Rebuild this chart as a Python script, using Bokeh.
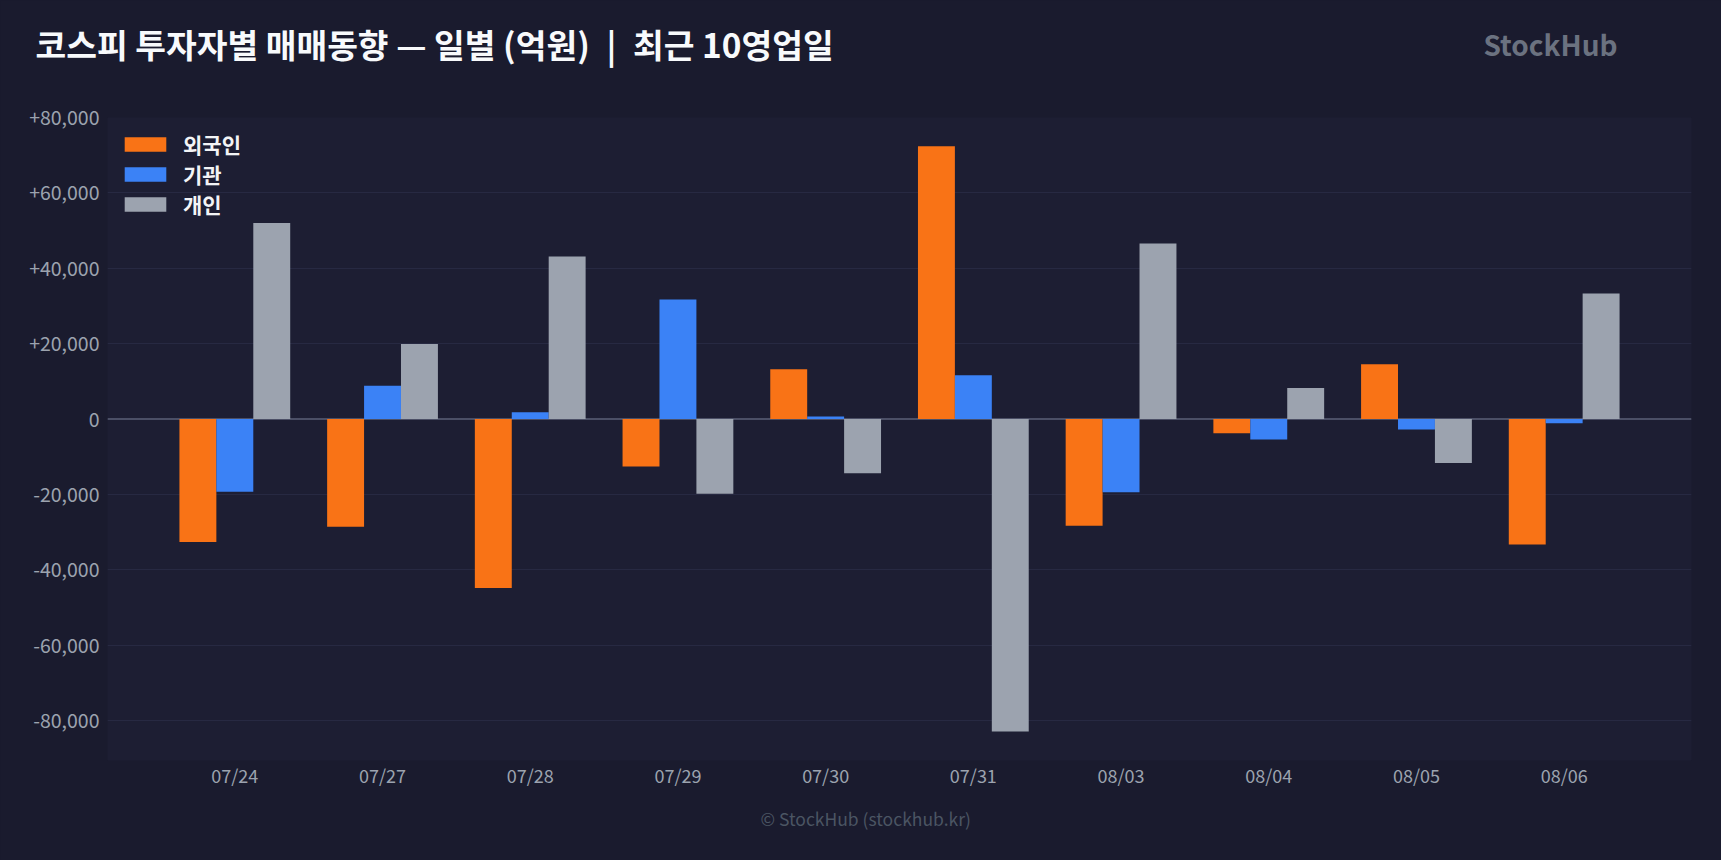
from bokeh.plotting import figure
from bokeh.models import Range1d, FixedTicker, Span, ColumnDataSource, Title, Label
from bokeh.transform import dodge
from bokeh.embed import file_html
from bokeh.resources import INLINE

dates = ["07/24", "07/27", "07/28", "07/29", "07/30", "07/31", "08/03", "08/04", "08/05", "08/06"]
foreign = [-32600, -28600, -44800, -12600, 13200, 72400, -28300, -3800, 14500, -33300]
institution = [-19300, 8800, 1800, 31700, 700, 11600, -19400, -5400, -2800, -1100]
individual = [52000, 19900, 43100, -19800, -14400, -82900, 46600, 8200, -11700, 33300]
series_names = ["외국인", "기관", "개인"]
series_colors = ["#f97316", "#3b82f6", "#9ca3af"]
y_ticks = [-80000, -60000, -40000, -20000, 0, 20000, 40000, 60000, 80000]
title_text = "코스피 투자자별 매매동향 — 일별 (억원)\u2002|\u2002최근 10영업일"
brand_text = "StockHub"
footer_text = "© StockHub (stockhub.kr)"

BG = "#1a1b2e"
PLOT_BG = "#1d1e33"
FONT = "Noto Sans CJK KR"
W, H = 1721, 860
BL, BR, BT, BB = 107, 30, 117, 100

src = ColumnDataSource(dict(x=list(range(len(dates))), foreign=foreign,
                            institution=institution, individual=individual))

p = figure(width=W, height=H, output_backend="svg", toolbar_location=None,
           x_range=Range1d(-0.862, len(dates) - 1 + 0.862),
           y_range=Range1d(-90600, 80000),
           min_border_left=BL, min_border_right=BR, min_border_top=BT, min_border_bottom=BB)
p.border_fill_color = BG
p.background_fill_color = PLOT_BG
p.outline_line_color = None

# title
p.title.text = title_text
p.title.align = "left"
p.title.offset = 35 - BL
p.title.standoff = 20
p.title.text_font = FONT
p.title.text_font_style = "bold"
p.title.text_font_size = "33.4px"
p.title.text_color = "#f8fafc"

# brand, in the top side panel
p.add_layout(Label(x=1617 - BL, y=74, x_units="screen", y_units="screen",
                   text=brand_text, text_font=FONT, text_font_style="bold", text_font_size="28px",
                   text_color="#6b7280", text_align="right", text_baseline="middle"), "above")

# footer
p.add_layout(Title(text=footer_text, align="left", offset=760 - BL, standoff=27,
                   text_font=FONT, text_font_style="normal", text_font_size="17.5px",
                   text_color="#4b5563"), "below")

p.add_layout(Span(location=0, dimension="width", line_color="#4b4f66", line_width=2, level="underlay"))

for col, off, name, color in zip(["foreign", "institution", "individual"], [-0.25, 0.0, 0.25],
                                 series_names, series_colors):
    p.vbar(x=dodge("x", off), top=col, bottom=0, width=0.25, source=src,
           fill_color=color, line_color=None, legend_label=name)

p.xaxis.ticker = FixedTicker(ticks=list(range(len(dates))))
p.xaxis.major_label_overrides = {i: d for i, d in enumerate(dates)}
p.yaxis.ticker = FixedTicker(ticks=y_ticks)
p.yaxis.major_label_overrides = {t: ("+{:,}".format(t) if t > 0 else "{:,}".format(t)) for t in y_ticks}
for ax in (p.xaxis, p.yaxis):
    ax.axis_line_color = None
    ax.major_tick_line_color = None
    ax.minor_tick_line_color = None
    ax.major_tick_out = 0
    ax.major_tick_in = 0
    ax.minor_tick_out = 0
    ax.major_label_text_color = "#9ca3af"
    ax.major_label_text_font = FONT
p.yaxis.major_label_text_font_size = "19.5px"
p.xaxis.major_label_text_font_size = "18px"
p.yaxis.major_label_standoff = 8
p.xaxis.major_label_standoff = 1

p.xgrid.grid_line_color = None
p.ygrid.grid_line_color = "#272942"
p.ygrid.grid_line_width = 1

lg = p.legend[0]
lg.location = "top_left"
lg.margin = 6
lg.padding = 6
lg.spacing = 0
lg.glyph_width = 52
lg.glyph_height = 18
lg.label_standoff = 12
lg.label_text_font = FONT
lg.label_text_font_style = "bold"
lg.label_text_font_size = "21px"
lg.label_text_color = "#f3f4f6"
lg.background_fill_alpha = 0
lg.border_line_alpha = 0

html = file_html(p, INLINE)
html = html.replace("<head>", "<head><style>html,body{background:%s;}</style>" % BG, 1)
open("out.html", "w").write(html)
